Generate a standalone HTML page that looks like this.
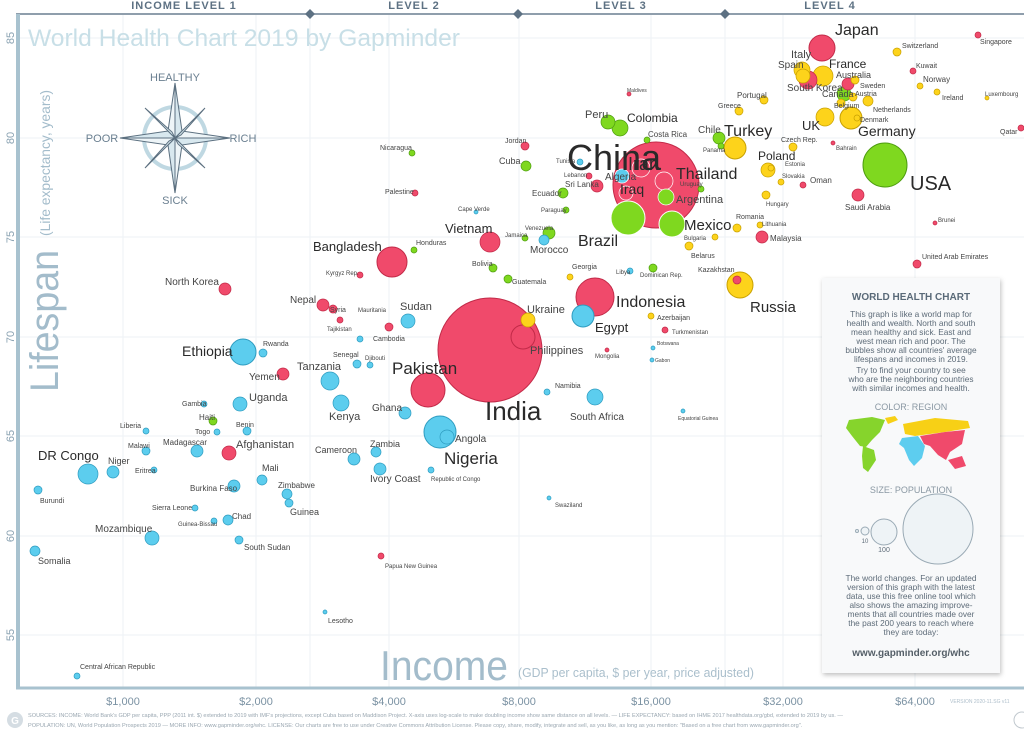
<!DOCTYPE html>
<html><head><meta charset="utf-8">
<style>
html,body{margin:0;padding:0;background:#fff;}
svg{display:block;font-family:"Liberation Sans",sans-serif;}
</style></head>
<body>
<svg id="s" width="1024" height="732" viewBox="0 0 1024 732" xmlns="http://www.w3.org/2000/svg">
<defs>
<filter id="sh" x="-10%" y="-10%" width="120%" height="120%"><feDropShadow dx="1" dy="2" stdDeviation="2.5" flood-color="#000" flood-opacity="0.25"/></filter>
</defs>
<rect width="1024" height="732" fill="#fff"/>
<g stroke="#edf2f5" stroke-width="1">
<line x1="18" y1="38" x2="1024" y2="38"/><line x1="18" y1="138" x2="1024" y2="138"/><line x1="18" y1="237" x2="1024" y2="237"/><line x1="18" y1="337" x2="1024" y2="337"/><line x1="18" y1="436" x2="1024" y2="436"/><line x1="18" y1="536" x2="1024" y2="536"/><line x1="18" y1="635" x2="1024" y2="635"/>
<line x1="123" y1="15" x2="123" y2="688"/><line x1="256" y1="15" x2="256" y2="688"/><line x1="310" y1="15" x2="310" y2="688"/><line x1="389" y1="15" x2="389" y2="688"/><line x1="519" y1="15" x2="519" y2="688"/><line x1="651" y1="15" x2="651" y2="688"/><line x1="725" y1="15" x2="725" y2="688"/><line x1="783" y1="15" x2="783" y2="688"/><line x1="915" y1="15" x2="915" y2="688"/>
</g>
<line x1="16" y1="14" x2="1024" y2="14" stroke="#6a7f90" stroke-width="1.5"/>
<g fill="#5d7183"><path d="M310 9 L315 14 L310 19 L305 14Z"/><path d="M518 9 L523 14 L518 19 L513 14Z"/><path d="M725 9 L730 14 L725 19 L720 14Z"/></g>
<g fill="#5d7183" font-size="11" font-weight="bold" text-anchor="middle" letter-spacing="1">
<text x="184" y="9">INCOME LEVEL 1</text><text x="414" y="9">LEVEL 2</text><text x="621" y="9">LEVEL 3</text><text x="830" y="9">LEVEL 4</text></g>
<line x1="18" y1="14" x2="18" y2="688" stroke="#a8c2cf" stroke-width="4"/>
<line x1="16" y1="688" x2="1024" y2="688" stroke="#a8c2cf" stroke-width="3"/>
<g fill="#8aa2b2" font-size="11" text-anchor="middle">
<text transform="translate(10,38) rotate(-90)" dy="4">85</text>
<text transform="translate(10,138) rotate(-90)" dy="4">80</text>
<text transform="translate(10,237) rotate(-90)" dy="4">75</text>
<text transform="translate(10,337) rotate(-90)" dy="4">70</text>
<text transform="translate(10,436) rotate(-90)" dy="4">65</text>
<text transform="translate(10,536) rotate(-90)" dy="4">60</text>
<text transform="translate(10,635) rotate(-90)" dy="4">55</text>
</g>
<g fill="#7b92a3" font-size="11" text-anchor="middle">
<text x="123" y="705">$1,000</text><text x="256" y="705">$2,000</text><text x="389" y="705">$4,000</text><text x="519" y="705">$8,000</text><text x="651" y="705">$16,000</text><text x="783" y="705">$32,000</text><text x="915" y="705">$64,000</text>
</g>
<text x="950" y="703" font-size="5" fill="#b0c0cc">VERSION 2020-11.SG v11</text>
<text x="28" y="46" font-size="24" fill="#c8dfe7" textLength="432" lengthAdjust="spacingAndGlyphs">World Health Chart 2019 by Gapminder</text>
<text transform="translate(58,392) rotate(-90)" font-size="40" fill="#a3bccb" textLength="142" lengthAdjust="spacingAndGlyphs">Lifespan</text>
<text transform="translate(50,236) rotate(-90)" font-size="14" fill="#a3bccb" textLength="146" lengthAdjust="spacingAndGlyphs">(Life expectancy, years)</text>
<text x="380" y="680" font-size="42" fill="#a3bccb" textLength="128" lengthAdjust="spacingAndGlyphs">Income</text>
<text x="518" y="677" font-size="13" fill="#aabfcc" textLength="236" lengthAdjust="spacingAndGlyphs">(GDP per capita, $ per year, price adjusted)</text>
<g transform="translate(175,138)">
<circle r="31" fill="none" stroke="#bfd8e2" stroke-width="4"/>
<g fill="#d8e8ef" stroke="#5c7080" stroke-width="1">
<path d="M0 -55 L7 -7 L0 0Z"/><path d="M0 -55 L-7 -7 L0 0Z" fill="#eef5f8"/>
<path d="M0 55 L7 7 L0 0Z" fill="#eef5f8"/><path d="M0 55 L-7 7 L0 0Z"/>
<path d="M-55 0 L-7 -7 L0 0Z"/><path d="M-55 0 L-7 7 L0 0Z" fill="#eef5f8"/>
<path d="M55 0 L7 -7 L0 0Z" fill="#eef5f8"/><path d="M55 0 L7 7 L0 0Z"/>
<path d="M-30 -30 L-3 -6 L0 0Z"/><path d="M30 -30 L6 -3 L0 0Z"/><path d="M30 30 L3 6 L0 0Z"/><path d="M-30 30 L-6 3 L0 0Z"/>
</g></g>
<g fill="#6a7f90" font-size="11" text-anchor="middle">
<text x="175" y="81">HEALTHY</text><text x="102" y="142">POOR</text><text x="243" y="142">RICH</text><text x="175" y="204">SICK</text></g>
<g id="b"></g>
<g id="l" fill="#333"></g>
<g filter="url(#sh)"><rect x="822" y="278" width="178" height="395" fill="#f8f9fa"/></g>
<g fill="#5d6b78" text-anchor="middle" font-size="8.3">
<text x="911" y="300" font-size="10" font-weight="bold" fill="#5a6a78">WORLD HEALTH CHART</text>
<text x="911" y="317">This graph is like a world map for</text>
<text x="911" y="326">health and wealth. North and south</text>
<text x="911" y="335">mean healthy and sick. East and</text>
<text x="911" y="344">west mean rich and poor.  The</text>
<text x="911" y="353">bubbles show all countries' average</text>
<text x="911" y="362">lifespans and incomes in 2019.</text>
<text x="911" y="373">Try to find your country to see</text>
<text x="911" y="382">who are the neighboring countries</text>
<text x="911" y="391">with similar incomes and health.</text>
<text x="911" y="410" font-size="9" fill="#8a98a3">COLOR: REGION</text>
<text x="911" y="493" font-size="9" fill="#8a98a3">SIZE: POPULATION</text>
<text x="938" y="521" font-size="8">1,000</text><text x="938" y="532" font-size="8">million</text><text x="938" y="543" font-size="8">people</text>
<text x="865" y="543" font-size="6">10</text><text x="884" y="552" font-size="7">100</text>
<text x="911" y="581">The world changes. For an updated</text>
<text x="911" y="590">version of this graph with the latest</text>
<text x="911" y="599">data, use this free online tool which</text>
<text x="911" y="608">also shows the amazing improve-</text>
<text x="911" y="617">ments that all countries made over</text>
<text x="911" y="626">the past 200 years to reach where</text>
<text x="911" y="635">they are today:</text>
<text x="911" y="656" font-size="10" font-weight="bold" fill="#555f68">www.gapminder.org/whc</text>
</g>
<g>
<path d="M849 420 L872 417 L885 420 L880 432 L872 440 L866 447 L860 446 L852 436 L846 428Z" fill="#86d42c"/>
<path d="M863 446 L874 450 L876 460 L868 472 L863 468 L862 456Z" fill="#86d42c"/>
<path d="M885 418 L895 416 L898 420 L888 424Z" fill="#f7d016"/>
<path d="M903 424 L935 418 L968 421 L970 428 L945 432 L930 434 L915 436 L905 434Z" fill="#f7d016"/>
<path d="M902 438 L918 436 L925 446 L922 458 L914 466 L909 460 L904 448 L899 444Z" fill="#5dcdef"/>
<path d="M920 436 L945 432 L965 430 L962 444 L950 452 L946 460 L938 455 L930 446 L924 444Z" fill="#f04a6b"/>
<path d="M948 460 L962 456 L966 466 L955 469Z" fill="#f04a6b"/>
</g>
<g fill="#eef3f6" stroke="#9aaab5" stroke-width="1">
<circle cx="938" cy="529" r="35"/><circle cx="884" cy="532" r="13"/><circle cx="865" cy="531" r="4"/><circle cx="857" cy="531" r="1.5"/>
</g>
<circle cx="15" cy="720" r="8" fill="#d5dde3"/><text x="15" y="724" font-size="10" text-anchor="middle" fill="#fff" font-weight="bold">G</text>
<circle cx="1022" cy="720" r="8" fill="none" stroke="#c0c8ce"/>
<g fill="#9aa7b1" font-size="5.6">
<text x="28" y="717">SOURCES: INCOME: World Bank's GDP per capita, PPP (2011 int. $) extended to 2019 with IMF's projections, except Cuba based on Maddison Project. X-axis uses log-scale to make doubling income show same distance on all levels. — LIFE EXPECTANCY: based on IHME 2017 healthdata.org/gbd, extended to 2019 by us. —</text>
<text x="28" y="727">POPULATION: UN, World Population Prospects 2019 — MORE INFO: www.gapminder.org/whc. LICENSE: Our charts are free to use under Creative Commons Attribution License. Please copy, share, modify, integrate and sell, as you like, as long as you mention: "Based on a free chart from www.gapminder.org".</text>
</g>
<script>
var C={a:["#f04a6b","#c22a48"],e:["#fdd31b","#c8a000"],m:["#7fd81f","#4e9d10"],f:["#5ccdee","#2e9cc0"]};
var D=[
["a",656,185,43,"China",567,170,36,"start"],
["a",490,350,52,"India",485,420,26,"start"],
["m",885,165,22,"USA",910,190,20,"start"],
["a",595,297,19,"Indonesia",616,307,16,"start"],
["a",428,390,17,"Pakistan",392,374,17,"start"],
["f",440,432,16,"Nigeria",444,464,17,"start"],
["a",392,262,15,"Bangladesh",313,251,13,"start"],
["m",628,218,17,"Brazil",578,246,16,"start"],
["e",740,285,13,"Russia",750,312,15,"start"],
["m",672,224,13,"Mexico",684,230,15,"start"],
["a",822,48,13,"Japan",835,35,16,"start"],
["f",243,352,13,"Ethiopia",182,356,14,"start"],
["a",523,337,12,"Philippines",530,354,11,"start"],
["f",583,316,11,"Egypt",595,332,13,"start"],
["a",490,242,10,"Vietnam",445,233,13,"start"],
["f",88,474,10,"DR Congo",38,460,13,"start"],
["a",641,168,9,"Iran",628,170,18,"start"],
["e",851,118,11,"Germany",858,136,14,"start"],
["e",735,148,11,"Turkey",724,136,16,"start"],
["a",664,181,9,"Thailand",676,179,16,"start"],
["e",825,117,9,"UK",802,130,13,"start"],
["e",823,76,10,"France",829,68,12,"start"],
["e",802,70,8,"Italy",791,58,11,"start"],
["e",803,76,7,"Spain",778,68,10,"start"],
["a",808,80,9,"South Korea",787,91,10,"start"],
["f",330,381,9,"Tanzania",297,370,11,"start"],
["f",341,403,8,"Kenya",329,420,11,"start"],
["f",240,404,7,"Uganda",249,401,11,"start"],
["f",408,321,7,"Sudan",400,310,11,"start"],
["f",595,397,8,"South Africa",570,420,10,"start"],
["m",620,128,8,"Colombia",627,122,12,"start"],
["m",608,122,7,"Peru",585,118,11,"start"],
["m",666,197,8,"Argentina",676,203,11,"start"],
["a",626,193,7,"Iraq",620,194,14,"start"],
["f",622,176,7,"Algeria",605,180,10,"start"],
["a",229,453,7,"Afghanistan",236,448,11,"start"],
["a",283,374,6,"Yemen",249,380,10,"start"],
["a",225,289,6,"North Korea",165,285,10,"start"],
["a",323,305,6,"Nepal",290,303,10,"start"],
["e",528,320,7,"Ukraine",527,313,11,"start"],
["e",768,170,7,"Poland",758,160,12,"start"],
["m",844,94,7,"Canada",822,97,9,"start"],
["a",848,84,6,"Australia",836,78,9,"start"],
["f",447,437,7,"Angola",455,442,10,"start"],
["f",152,538,7,"Mozambique",95,532,10,"start"],
["f",405,413,6,"Ghana",372,411,10,"start"],
["f",197,451,6,"Madagascar",163,445,8,"start"],
["f",113,472,6,"Niger",108,464,9,"start"],
["f",354,459,6,"Cameroon",315,453,9,"start"],
["f",380,469,6,"Ivory Coast",370,482,10,"start"],
["f",262,480,5,"Mali",262,471,9,"start"],
["f",234,486,6,"Burkina Faso",190,491,8,"start"],
["f",376,452,5,"Zambia",370,447,9,"start"],
["f",287,494,5,"Zimbabwe",278,488,8,"start"],
["f",289,503,4,"Guinea",290,515,9,"start"],
["f",228,520,5,"Chad",232,519,8,"start"],
["f",239,540,4,"South Sudan",244,550,8,"start"],
["f",35,551,5,"Somalia",38,564,9,"start"],
["f",38,490,4,"Burundi",40,503,7,"start"],
["f",195,508,3,"Sierra Leone",152,510,7,"start"],
["f",214,521,3,"Guinea-Bissau",178,526,6,"start"],
["f",154,470,3,"Eritrea",135,473,7,"start"],
["f",146,451,4,"Malawi",128,448,7,"start"],
["f",146,431,3,"Liberia",120,428,7,"start"],
["f",204,404,3,"Gambia",182,406,7,"start"],
["m",213,421,4,"Haiti",199,420,8,"start"],
["f",217,432,3,"Togo",195,434,7,"start"],
["f",247,431,4,"Benin",236,427,7,"start"],
["f",263,353,4,"Rwanda",263,346,7,"start"],
["f",357,364,4,"Senegal",333,357,7,"start"],
["f",360,339,3,"Mauritania",358,312,6,"start"],
["f",370,365,3,"Djibouti",365,360,6,"start"],
["f",547,392,3,"Namibia",555,388,7,"start"],
["f",549,498,2,"Swaziland",555,507,6,"start"],
["f",325,612,2,"Lesotho",328,623,7,"start"],
["f",77,676,3,"Central African Republic",80,669,7,"start"],
["f",544,240,5,"Morocco",530,253,10,"start"],
["f",630,271,3,"Libya",616,274,6,"start"],
["f",683,411,2,"Equatorial Guinea",678,420,5,"start"],
["f",431,470,3,"Republic of Congo",431,481,6,"start"],
["f",580,162,3,"Tunisia",556,163,6,"start"],
["f",653,348,2,"Botswana",657,345,5,"start"],
["f",652,360,2,"Gabon",655,362,5,"start"],
["f",476,212,2,"Cape Verde",458,211,6,"start"],
["a",381,556,3,"Papua New Guinea",385,568,6,"start"],
["a",415,193,3,"Palestine",385,194,7,"start"],
["a",525,146,4,"Jordan",505,143,7,"start"],
["a",589,176,3,"Lebanon",564,177,6,"start"],
["a",597,186,6,"Sri Lanka",565,187,8,"start"],
["a",333,309,4,"Syria",330,312,7,"start"],
["a",340,320,3,"Tajikistan",327,331,6,"start"],
["a",360,275,3,"Kyrgyz Rep.",326,275,6,"start"],
["a",389,327,4,"Cambodia",373,341,7,"start"],
["a",607,350,2,"Mongolia",595,358,6,"start"],
["a",629,94,2,"Maldives",627,92,5,"start"],
["a",978,35,3,"Singapore",980,44,7,"start"],
["a",913,71,3,"Kuwait",916,68,7,"start"],
["a",1021,128,3,"Qatar",1000,134,7,"start"],
["a",833,143,2,"Bahrain",836,150,6,"start"],
["a",803,185,3,"Oman",810,183,8,"start"],
["a",858,195,6,"Saudi Arabia",845,210,8,"start"],
["a",935,223,2,"Brunei",938,222,6,"start"],
["a",917,264,4,"United Arab Emirates",922,259,7,"start"],
["a",762,237,6,"Malaysia",770,241,8,"start"],
["a",737,280,4,"Kazakhstan",698,272,7,"start"],
["m",719,138,6,"Chile",698,133,10,"start"],
["m",721,146,3,"Panama",703,152,6,"start"],
["m",526,166,5,"Cuba",499,164,9,"start"],
["m",412,153,3,"Nicaragua",380,150,7,"start"],
["m",414,250,3,"Honduras",416,245,7,"start"],
["m",563,193,5,"Ecuador",532,196,8,"start"],
["m",647,140,3,"Costa Rica",648,137,8,"start"],
["m",549,233,6,"Venezuela",525,230,6,"start"],
["m",493,268,4,"Bolivia",472,266,7,"start"],
["m",508,279,4,"Guatemala",512,284,7,"start"],
["m",566,210,3,"Paraguay",541,212,6,"start"],
["m",525,238,3,"Jamaica",505,237,6,"start"],
["m",653,268,4,"Dominican Rep.",640,277,6,"start"],
["m",701,189,3,"Uruguay",680,186,6,"start"],
["e",764,100,4,"Portugal",737,98,8,"start"],
["e",739,111,4,"Greece",718,108,7,"start"],
["e",897,52,4,"Switzerland",902,48,7,"start"],
["e",920,86,3,"Norway",923,82,8,"start"],
["e",937,92,3,"Ireland",942,100,7,"start"],
["e",987,98,2,"Luxembourg",985,96,6,"start"],
["e",868,101,5,"Netherlands",873,112,7,"start"],
["e",855,80,4,"Sweden",860,88,7,"start"],
["e",857,118,3,"Denmark",860,122,7,"start"],
["e",841,103,4,"Belgium",834,108,7,"start"],
["e",853,97,4,"Austria",855,96,7,"start"],
["e",793,147,4,"Czech Rep.",781,142,7,"start"],
["e",737,228,4,"Romania",736,219,7,"start"],
["e",766,195,4,"Hungary",766,206,6,"start"],
["e",715,237,3,"Bulgaria",684,240,6,"start"],
["e",689,246,4,"Belarus",691,258,7,"start"],
["e",781,182,3,"Slovakia",782,178,6,"start"],
["e",651,316,3,"Azerbaijan",657,320,7,"start"],
["e",760,225,3,"Lithuania",762,226,6,"start"],
["e",771,168,3,"Estonia",785,166,6,"start"],
["a",665,330,3,"Turkmenistan",672,334,6,"start"],
["e",570,277,3,"Georgia",572,269,7,"start"]
];
var b=document.getElementById("b"),l=document.getElementById("l"),ns="http://www.w3.org/2000/svg";
D.sort(function(p,q){return q[3]-p[3];});
D.forEach(function(d){var c=document.createElementNS(ns,"circle");c.setAttribute("cx",d[1]);c.setAttribute("cy",d[2]);c.setAttribute("r",d[3]);c.setAttribute("fill",C[d[0]][0]);c.setAttribute("stroke",d[3]<25&&d[1]>600&&d[1]<700&&d[2]>145&&d[2]<228?"#fff":C[d[0]][1]);c.setAttribute("stroke-width",d[3]>10?1:0.7);b.appendChild(c);
var t=document.createElementNS(ns,"text");t.setAttribute("x",d[5]);t.setAttribute("y",d[6]);t.setAttribute("font-size",d[7]);t.setAttribute("text-anchor",d[8]);t.setAttribute("fill",d[7]>=12?"#2a2a2a":"#444");t.textContent=d[4];l.appendChild(t);});
</script>
</svg>
</body></html>
